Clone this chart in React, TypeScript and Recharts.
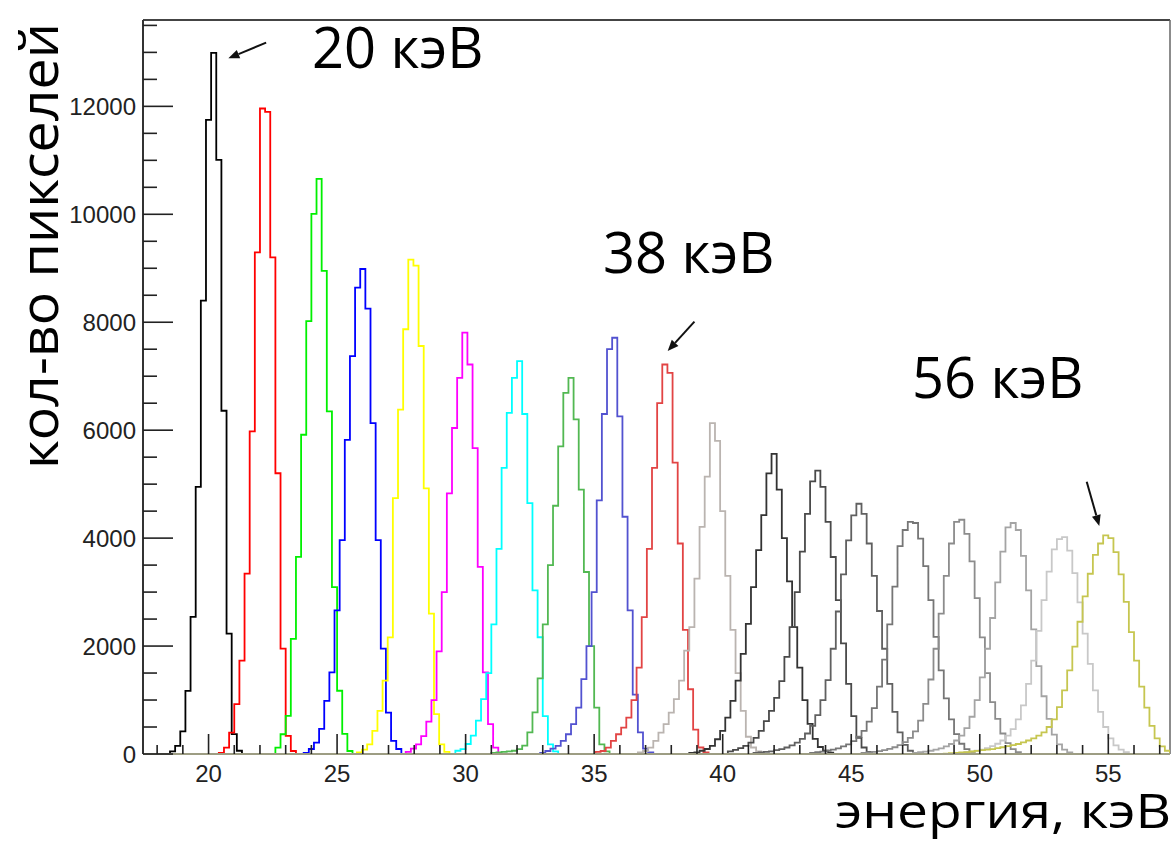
import { LineChart, Line, XAxis, YAxis, ReferenceLine } from 'recharts';

// histogram bin width, keV
const BIN = 0.2;

// nominal line energies (keV) of the 19 spectra
const peakNames = ['20', '22', '24', '26', '28', '30', '32', '34', '36', '38', '40', '42', '44', '46', '48', '50', '52', '54', '56'];

// left edge of the first non-empty bin of every spectrum, keV
const peakStarts = [18.5, 20.4, 22.6, 23.7, 25.77, 27.67, 29.6, 31.0, 32.9, 35.05, 36.7, 38.7, 40.2, 41.2, 43.4, 45.4, 47.4, 49.2, 48.6];

// pixel counts per bin
const counts20 = [50, 150, 420, 1170, 2540, 4950, 8400, 11750, 12990, 11010, 6360, 2230, 370, 60];
const counts22 = [20, 118, 397, 924, 1730, 3342, 5977, 9294, 11960, 11898, 9201, 5202, 1953, 335, 56];
const counts24 = [118, 366, 707, 2133, 3651, 5915, 8022, 10007, 10658, 8952, 6349, 3093, 1172, 372, 56];
const counts26 = [20, 93, 211, 465, 986, 1512, 2660, 3962, 5822, 7371, 8643, 8986, 8253, 6132, 3962, 1953, 768, 242, 93];
const counts28 = [30, 80, 180, 430, 800, 1360, 2160, 4740, 6380, 7870, 9160, 9050, 7560, 4920, 2600, 740, 180, 40];
const counts30 = [40, 100, 180, 330, 600, 1000, 1900, 3000, 4830, 6040, 6970, 7806, 7217, 5667, 3466, 1512, 552, 118];
const counts32 = [60, 92, 185, 339, 617, 1017, 1500, 2400, 3800, 5300, 6321, 6969, 7279, 6300, 4650, 3032, 2163, 700, 180, 50];
const counts34 = [20, 30, 40, 50, 60, 90, 154, 401, 771, 1400, 2400, 3500, 4600, 5700, 6690, 6969, 6200, 4900, 3372, 2000, 861, 180, 50];
const counts36 = [20, 56, 100, 149, 242, 366, 552, 861, 1389, 2000, 3000, 4700, 6300, 7500, 7713, 6255, 4396, 2660, 1100, 400, 100, 30];
const counts38 = [40, 56, 118, 242, 366, 489, 675, 1000, 1600, 2535, 3800, 5300, 6500, 7217, 7062, 5400, 3900, 2300, 1200, 450, 120, 30];
const counts40 = [30, 56, 118, 242, 397, 552, 768, 1017, 1358, 1916, 2349, 3249, 4209, 5139, 6132, 5800, 4500, 3300, 2300, 1500, 800, 320, 120, 50];
const counts42 = [20, 30, 60, 93, 149, 273, 428, 675, 986, 1358, 1854, 2412, 3093, 3776, 4427, 5200, 5561, 4900, 4000, 3200, 2350, 1600, 1000, 560, 280, 130, 60, 25];
const counts44 = [50, 75, 110, 150, 210, 300, 430, 610, 800, 1040, 1350, 1800, 2350, 3000, 3750, 4450, 5050, 5250, 4950, 4300, 3650, 2850, 2050, 1300, 700, 300, 120, 40];
const counts46 = [20, 28, 38, 50, 70, 90, 120, 160, 210, 280, 380, 520, 720, 1000, 1370, 1950, 2640, 3330, 3960, 4420, 4637, 4450, 3900, 3300, 2650, 1950, 1300, 780, 400, 170, 60, 20];
const counts48 = [22, 32, 45, 60, 80, 105, 140, 180, 240, 320, 430, 600, 850, 1250, 1750, 2400, 3100, 3850, 4150, 4300, 4280, 3990, 3480, 2850, 2170, 1550, 1030, 640, 370, 190, 90, 35];
const counts50 = [20, 28, 40, 55, 72, 95, 125, 165, 220, 300, 420, 620, 930, 1380, 1950, 2600, 3300, 3900, 4300, 4340, 4080, 3570, 2890, 2160, 1500, 960, 650, 380, 200, 90, 35];
const counts52 = [22, 32, 45, 60, 80, 105, 140, 185, 250, 340, 480, 690, 1000, 1420, 1950, 2520, 3180, 3750, 4200, 4280, 4150, 3670, 3030, 2310, 1630, 1070, 650, 360, 180, 80, 30];
const counts54 = [22, 32, 44, 60, 82, 110, 145, 190, 250, 340, 460, 640, 900, 1300, 1730, 2280, 2850, 3380, 3790, 3980, 4020, 3770, 3350, 2810, 2230, 1670, 1180, 780, 500, 290, 160, 80, 35];
const counts56 = [8, 14, 20, 28, 36, 46, 58, 70, 80, 92, 108, 125, 145, 165, 185, 215, 250, 290, 340, 400, 500, 640, 870, 1180, 1550, 1990, 2450, 2920, 3340, 3690, 3900, 4050, 4000, 3740, 3330, 2820, 2260, 1730, 1250, 860, 520, 290, 140, 60];

const spectra = [counts20, counts22, counts24, counts26, counts28, counts30, counts32, counts34, counts36, counts38,
  counts40, counts42, counts44, counts46, counts48, counts50, counts52, counts54, counts56];

const xTicks = [18, 19, 20, 21, 22, 23, 24, 25, 26, 27, 28, 29, 30, 31, 32, 33, 34, 35, 36, 37, 38, 39, 40,
  41, 42, 43, 44, 45, 46, 47, 48, 49, 50, 51, 52, 53, 54, 55, 56, 57];
const yTicks = [0, 500, 1000, 1500, 2000, 2500, 3000, 3500, 4000, 4500, 5000, 5500, 6000, 6500, 7000, 7500,
  8000, 8500, 9000, 9500, 10000, 10500, 11000, 11500, 12000, 12500, 13000, 13500];

// annotation arrows: [tail energy, tail count, head energy, head count]
const arrows = [
  [22.24, 13180, 20.77, 12890],
  [38.9, 8010, 37.86, 7467],
  [54.16, 5045, 54.65, 4225],
];

const colors = ['#000000', '#ff0000', '#00f000', '#0000ff', '#ffff00', '#ff00ff', '#00ffff', '#52b852', '#5252d0', '#e24444',
  '#bab4b0', '#333333', '#4a4a4a', '#606060', '#767676', '#8c8c8c', '#a4a4a4', '#c8c8c8', '#c6c650'];

const X_MIN = 17.45;
const X_MAX = 57.4;
const Y_MAX = 13600;

const tickFont = '"Liberation Sans", Arial, sans-serif';
const titleFont = '"Open Sans", sans-serif';

// step points: rise at the first edge, fall after the last bin
const series = spectra.map((c, k) => {
  const s = peakStarts[k];
  const pts = [{ e: s, v: 0 }];
  c.forEach((v, i) => pts.push({ e: +(s + i * BIN).toFixed(3), v }));
  pts.push({ e: +(s + c.length * BIN).toFixed(3), v: 0 });
  return pts;
});

const XTick = (props: any) => {
  const { x, y, payload } = props;
  const major = payload.value % 5 === 0;
  return (
    <g>
      <line x1={x} x2={x} y1={y} y2={y - (major ? 20 : 9)} stroke="#222" strokeWidth={1.6} />
      {major && (
        <text x={x} y={y + 28} textAnchor="middle" fontSize={24} fontFamily={tickFont} fill="#222">
          {payload.value}
        </text>
      )}
    </g>
  );
};

const YTick = (props: any) => {
  const { x, y, payload } = props;
  const major = payload.value % 2000 === 0;
  return (
    <g>
      <line x1={x} x2={x + (major ? 30 : 14)} y1={y} y2={y} stroke="#222" strokeWidth={1.6} />
      {major && (
        <text x={x - 7} y={y + 8.5} textAnchor="end" fontSize={24} fontFamily={tickFont} fill="#222">
          {payload.value}
        </text>
      )}
    </g>
  );
};

const Arrow = (props: any) => {
  const { x1, y1, x2, y2 } = props;
  const dx = x2 - x1;
  const dy = y2 - y1;
  const len = Math.sqrt(dx * dx + dy * dy) || 1;
  const ux = dx / len;
  const uy = dy / len;
  const bx = x2 - ux * 11;
  const by = y2 - uy * 11;
  return (
    <g>
      <line x1={x1} y1={y1} x2={bx} y2={by} stroke="#111" strokeWidth={2} />
      <polygon
        points={`${x2},${y2} ${bx - uy * 4.5},${by + ux * 4.5} ${bx + uy * 4.5},${by - ux * 4.5}`}
        fill="#111"
      />
    </g>
  );
};

export default function App() {
  return (
    <div style={{ position: 'absolute', left: 0, top: 0, background: '#fff' }}>
      <LineChart width={1173} height={843} margin={{ top: 20, right: 3, bottom: 0, left: 0 }}>
        <XAxis
          type="number"
          dataKey="e"
          domain={[X_MIN, X_MAX]}
          allowDataOverflow
          ticks={xTicks}
          interval={0}
          tick={<XTick />}
          tickLine={false}
          tickSize={0}
          tickMargin={0}
          height={89}
          axisLine={{ stroke: '#8a8a8a', strokeWidth: 1.5 }}
        />
        <YAxis
          type="number"
          dataKey="v"
          domain={[0, Y_MAX]}
          allowDataOverflow
          ticks={yTicks}
          interval={0}
          tick={<YTick />}
          tickLine={false}
          tickSize={0}
          tickMargin={0}
          width={143}
          axisLine={{ stroke: '#333', strokeWidth: 2 }}
        />
        <ReferenceLine y={Y_MAX} stroke="#444" strokeWidth={2} />
        <ReferenceLine x={X_MAX} stroke="#666" strokeWidth={1.5} />
        {series.map((pts, k) => (
          <Line
            key={peakNames[k]}
            name={`${peakNames[k]} кэВ`}
            data={pts}
            dataKey="v"
            type="stepAfter"
            stroke={colors[k]}
            strokeWidth={1.8}
            dot={false}
            activeDot={false}
            isAnimationActive={false}
          />
        ))}
        <ReferenceLine y={0} stroke="#d8d870" strokeWidth={2} />
        {arrows.map((a, i) => (
          <ReferenceLine
            key={`arrow-${i}`}
            segment={[{ x: a[0], y: a[1] }, { x: a[2], y: a[3] }]}
            shape={<Arrow />}
          />
        ))}
        <text x={312} y={68} fontSize={56} fontFamily={titleFont} fill="#000">20 кэВ</text>
        <text x={603} y={273} fontSize={56} fontFamily={titleFont} fill="#000">38 кэВ</text>
        <text x={912} y={398} fontSize={56} fontFamily={titleFont} fill="#000">56 кэВ</text>
        <text
          transform="translate(58,246) rotate(-90)"
          textAnchor="middle"
          fontSize={53}
          fontFamily={titleFont}
          fill="#000"
          textLength={446}
          lengthAdjust="spacingAndGlyphs"
        >
          кол-во пикселей
        </text>
        <text
          x={835}
          y={828}
          fontSize={48}
          fontFamily={titleFont}
          fill="#000"
          textLength={336}
          lengthAdjust="spacingAndGlyphs"
        >
          энергия, кэВ
        </text>
      </LineChart>
    </div>
  );
}
